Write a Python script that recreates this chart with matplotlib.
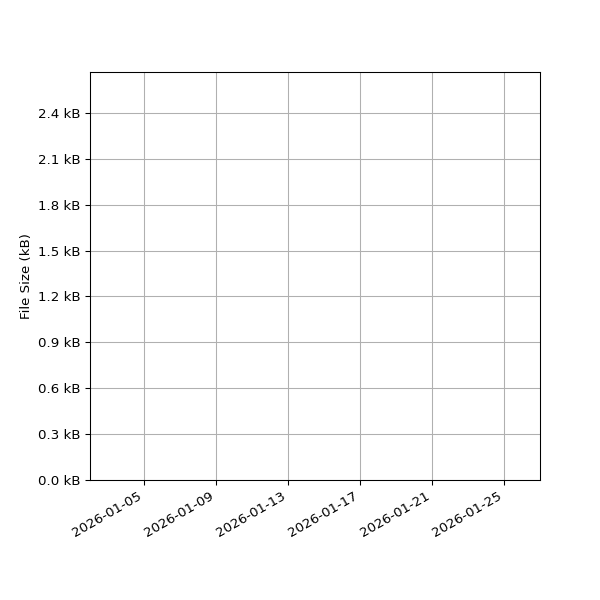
import matplotlib
matplotlib.use("Agg")
import matplotlib.pyplot as plt
import matplotlib.dates as mdates
from matplotlib.ticker import FuncFormatter, MultipleLocator
import numpy as np
from datetime import datetime

# no samples recorded in this window
dates = []
sizes_kb = []

x_start = datetime(2026, 1, 2)
x_end = datetime(2026, 1, 27)
y_top = 2.668

fig, ax = plt.subplots(figsize=(6.25, 6.25), dpi=96)
fig.subplots_adjust(left=0.15, right=0.9, top=0.88, bottom=0.2)

ax.plot(dates, sizes_kb)

ax.set_xlim(x_start, x_end)
ax.set_ylim(0, y_top)
ax.xaxis.set_major_locator(mdates.DayLocator(bymonthday=[5, 9, 13, 17, 21, 25]))
ax.xaxis.set_major_formatter(mdates.DateFormatter("%Y-%m-%d"))
ax.yaxis.set_major_locator(MultipleLocator(0.3))
ax.yaxis.set_major_formatter(FuncFormatter(lambda v, p: f"{v:.1f} kB"))
ax.set_ylabel("File Size (kB)")
ax.grid(True)

for lbl in ax.get_xticklabels():
    lbl.set_rotation(30)
    lbl.set_ha("right")

fig.savefig("out.png", dpi=96)
